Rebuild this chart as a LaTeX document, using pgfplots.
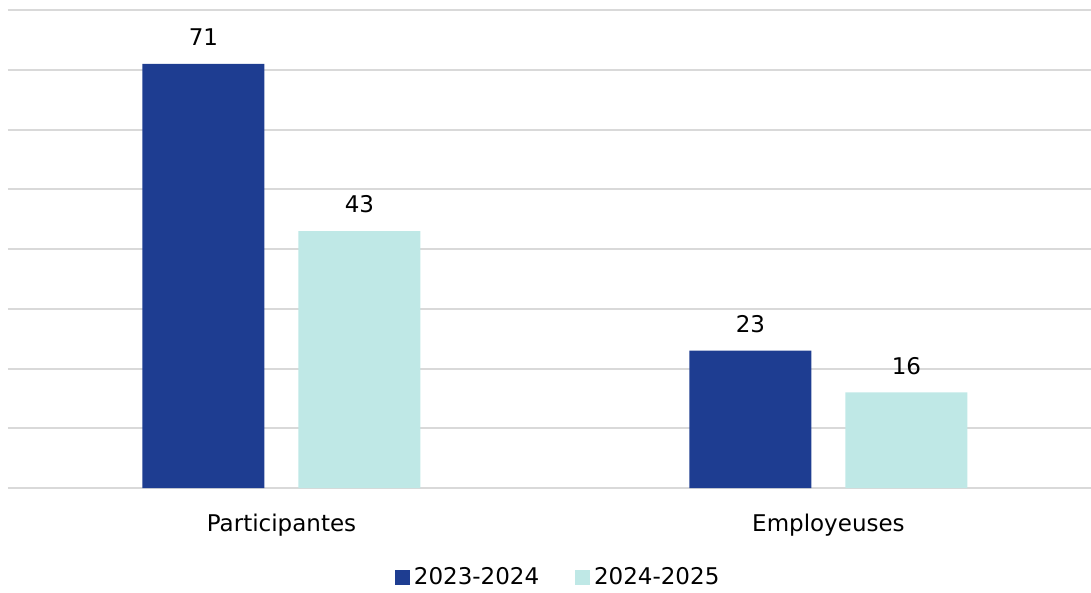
\documentclass[border=0pt]{standalone}
\usepackage{fontspec}
\setmainfont{DejaVu Sans}
\usepackage{pgfplots}
\pgfplotsset{compat=1.18}
\definecolor{darkblue}{RGB}{30,61,145}
\definecolor{lightteal}{RGB}{191,232,230}
\definecolor{gridgray}{RGB}{217,217,217}
\begin{document}
\begin{tikzpicture}
\path[use as bounding box] (-4pt,-52.5pt) rectangle (541.5pt,244pt);
\begin{axis}[
  at={(0,0)}, anchor=south west,
  scale only axis,
  width=541.5pt, height=239pt,
  ybar, bar width=61pt,
  ymin=0, ymax=80, ytick={0,10,...,80},
  yticklabels={},
  xmin=-0.5, xmax=1.48,
  xtick={0,1}, xticklabels={Participantes,Employeuses},
  major tick length=0pt,
  ymajorgrids, grid style={gridgray, line width=1pt},
  axis line style={draw=none},
  /pgf/number format/assume math mode=true,
  font=\fontsize{11.5pt}{13pt}\selectfont,
  xticklabel style={yshift=-9.5pt},
  nodes near coords,
  every node near coord/.append style={font=\fontsize{11.5pt}{13pt}\selectfont, yshift=5.5pt},
  legend style={draw=none, at={(0.509,-0.188)}, anchor=center, legend columns=2,
     /tikz/every even column/.append style={column sep=16pt}, font=\fontsize{11.5pt}{13pt}\selectfont},
  legend image code/.code={\fill[#1] (0pt,-3.7pt) rectangle (7.4pt,3.7pt);},
  clip=false,
]
\addplot[fill=darkblue, draw=none, bar shift=-39pt] coordinates {(0,71) (1,23)};
\addplot[fill=lightteal, draw=none, bar shift=39pt] coordinates {(0,43) (1,16)};
\legend{2023-2024,2024-2025}
\end{axis}
\end{tikzpicture}
\end{document}
